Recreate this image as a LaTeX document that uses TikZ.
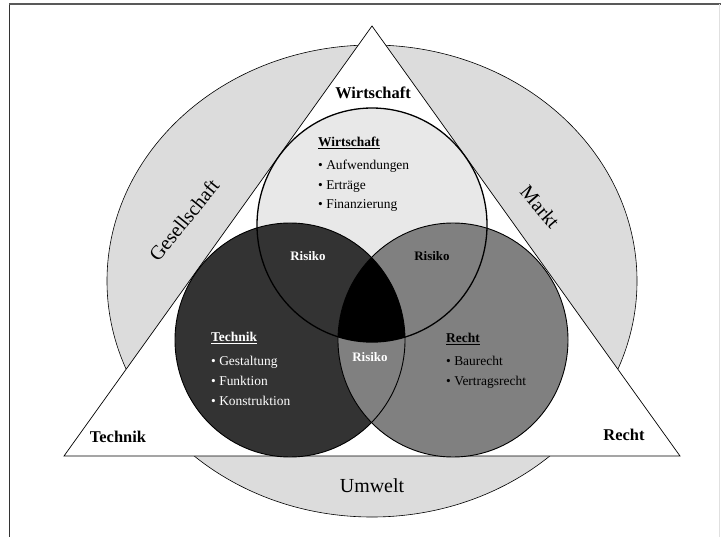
\documentclass[tikz,border=0pt]{standalone}
\usepackage{fontspec}
\setmainfont{Liberation Serif}
\definecolor{ringgray}{HTML}{DCDCDC}
\definecolor{wgray}{HTML}{E8E8E8}
\definecolor{tgray}{HTML}{333333}
\definecolor{rgray}{HTML}{808080}
\tikzstyle{ring} = [fill=ringgray, draw=black, line width=0.6]
\tikzstyle{corner} = [font={\fontsize{16.5}{18}\selectfont\bfseries}]
\tikzstyle{field} = [font={\fontsize{20}{22}\selectfont}]
\tikzstyle{risk} = [font={\fontsize{13}{15}\selectfont\bfseries}]
\tikzstyle{head} = [font={\fontsize{13.5}{15}\selectfont\bfseries}, anchor=west, inner sep=0, text height=9pt, text depth=3pt]
\tikzstyle{item} = [font={\fontsize{13.5}{15}\selectfont}, anchor=west, inner sep=0, text height=9pt, text depth=3pt]

\begin{document}
\begin{tikzpicture}[x=1bp,y=-1bp]
\useasboundingbox (0,0) rectangle (721,537);

% frame
\draw[line width=1.5, draw=black!80] (9.5,4) -- (9.5,537);
\draw[line width=2, draw=black!65] (9,4) -- (721,4);
\draw[line width=1, draw=black!12] (719.5,4) -- (719.5,537);

% outer ring
\coordinate (mid) at (372,281);
\draw[ring] (mid) ellipse [x radius=265bp, y radius=236bp];

% triangle
\coordinate (apex) at (372,26);
\coordinate (bl) at (64,456);
\coordinate (br) at (680,456);
\draw[fill=white, line width=0.7] (apex) -- (bl) -- (br) -- cycle;

% circles
\coordinate (cw) at (372,225);
\coordinate (ct) at (290,340);
\coordinate (cr) at (453,340);
\fill[wgray] (cw) ellipse [x radius=115bp, y radius=117bp];
\fill[tgray] (ct) ellipse [x radius=115bp, y radius=117bp];
\fill[rgray] (cr) ellipse [x radius=115bp, y radius=117bp];
\begin{scope}
\clip (cw) ellipse [x radius=115bp, y radius=117bp];
\clip (ct) ellipse [x radius=115bp, y radius=117bp];
\fill[black] (cr) ellipse [x radius=115bp, y radius=117bp];
\end{scope}
\draw[line width=1.3] (cw) ellipse [x radius=115bp, y radius=117bp];
\draw[line width=0.9] (ct) ellipse [x radius=115bp, y radius=117bp];
\draw[line width=0.9] (cr) ellipse [x radius=115bp, y radius=117bp];

% corner labels
\node [corner] (lw) at (373,93) {Wirtschaft};
\node [corner] (lt) at (118,437) {Technik};
\node [corner] (lr) at (624,435) {Recht};

% ring labels
\node [field, rotate=51] (ges) at (184,220) {Gesellschaft};
\node [field, rotate=-49.5] (mkt) at (540,207) {Markt};
\node [field] (umw) at (372,486) {Umwelt};

% Wirtschaft
\node [head] (hw) at (318,144) {\underline{Wirtschaft}};
\foreach \txt [count=\i] in {Aufwendungen, Erträge, Finanzierung}
  \node [item] (w\i) at (318,147.5+19.5*\i) {• \txt};

% Technik
\node [head, text=white] (ht) at (211,339) {\underline{Technik}};
\foreach \txt [count=\i] in {Gestaltung, Funktion, Konstruktion}
  \node [item, text=white] (t\i) at (211,343+20*\i) {• \txt};

% Recht
\node [head] (hr) at (446,340) {\underline{Recht}};
\foreach \txt [count=\i] in {Baurecht, Vertragsrecht}
  \node [item] (r\i) at (446,343+20*\i) {• \txt};

% Risiko
\node [risk, text=white] (rwt) at (308,256) {Risiko};
\node [risk] (rwr) at (432,256) {Risiko};
\node [risk, text=white] (rtr) at (370,357) {Risiko};
\end{tikzpicture}
\end{document}
